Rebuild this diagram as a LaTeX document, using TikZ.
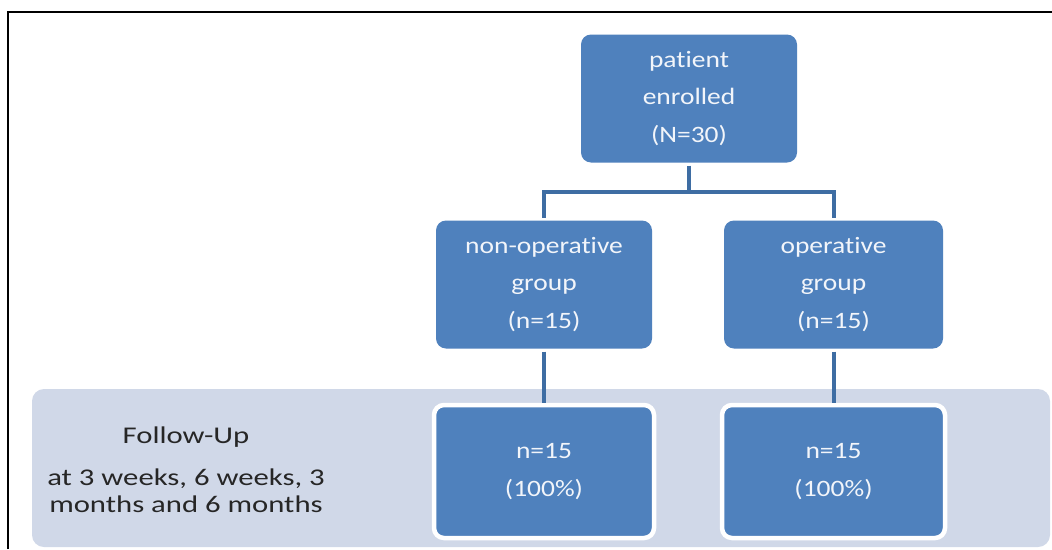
\documentclass[tikz,border=0pt]{standalone}
\usepackage{fontspec}
\setmainfont{Carlito}
\newfontfamily\boxfont[FakeStretch=1.17, Ligatures={NoCommon}]{Carlito}
\newfontfamily\fufont[FakeStretch=1.28, Ligatures={NoCommon}]{Carlito}
\usetikzlibrary{calc}
\definecolor{boxblue}{HTML}{4F81BD}
\definecolor{connblue}{HTML}{3E6DA3}
\definecolor{bandgray}{HTML}{D0D8E8}
\definecolor{boxtext}{HTML}{F2F5FA}
\definecolor{futext}{HTML}{262626}
\tikzset{
  bluebox/.style={rectangle, rounded corners=10pt, fill=boxblue, draw=none,
    minimum width=216pt, minimum height=128pt, inner sep=0pt,
    text=boxtext, align=center, font=\boxfont\fontsize{23.5}{37.5}\selectfont},
  fubox/.style={bluebox, draw=white, line width=4.5pt, minimum width=220pt, minimum height=133pt},
  conn/.style={draw=connblue, line width=4pt},
  frameline/.style={draw=black, line width=2.5pt},
}
\begin{document}
\begin{tikzpicture}[x=1pt,y=-1pt]
\useasboundingbox (0,0) rectangle (1052,549);
\fill[white] (0,0) rectangle (1052,549);
% frame
\draw[frameline] (8,549) -- (8,12) -- (1052,12);
% follow-up band
\fill[bandgray, rounded corners=12pt] (32,389) rectangle (1050,547);
% boxes
\node[bluebox] (top) at (689,98.5) {patient\\enrolled\\(N=30)};
\node[bluebox] (nonop) at (544,284.5) {non-operative\\group\\(n=15)};
\node[bluebox, minimum width=219pt] (op) at (833.5,284.5) {operative\\group\\(n=15)};
\node[fubox] (fua) at (544,471.5) {n=15\\(100\%)};
\node[fubox, minimum width=223pt] (fub) at (833.5,471.5) {n=15\\(100\%)};
% follow-up label
\node[text=futext, align=center, font=\fufont\fontsize{24}{27.5}\selectfont] (fulabel) at (186,470)
  {Follow-Up\\[14pt]at 3 weeks, 6 weeks, 3\\months and 6 months};
% connectors
\coordinate (split) at (689,192);
\draw[conn, shorten <=3pt] (top.south) -- (split);
\draw[conn, shorten >=2.5pt] (split) -| (nonop.north);
\draw[conn, shorten >=2.5pt] (split) -| (op.north);
\draw[conn, shorten <=3pt] (nonop.south) -- (fua.north);
\draw[conn, shorten <=3pt] (op.south) -- (fub.north);
\end{tikzpicture}
\end{document}
